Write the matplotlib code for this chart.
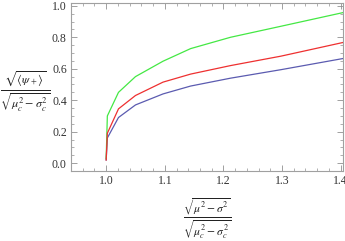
import numpy as np
import matplotlib
matplotlib.use("Agg")
from matplotlib import pyplot as plt
from matplotlib.ticker import MultipleLocator

# values
x = [1.0, 1.002, 1.021, 1.05, 1.097, 1.144, 1.212, 1.298, 1.404]
green = [0.03, 0.30, 0.45, 0.55, 0.648, 0.728, 0.80, 0.87, 0.957]
red = [0.02, 0.19, 0.345, 0.43, 0.515, 0.566, 0.62, 0.68, 0.767]
blue = [0.02, 0.16, 0.29, 0.37, 0.44, 0.49, 0.54, 0.594, 0.665]

plt.rcParams['font.family'] = ['Liberation Serif', 'DejaVu Serif']
plt.rcParams['mathtext.fontset'] = 'stix'

fig = plt.figure(figsize=(3.45, 2.41), dpi=100)
ax = fig.add_axes([71 / 345, 1 - 171 / 241, 272 / 345, 168 / 241])

ax.plot(x, blue, color="#5b5bb0", lw=0.9)
ax.plot(x, green, color="#44e844", lw=0.9)
ax.plot(x, red, color="#ee3030", lw=0.9)

ax.set_xlim(0.94, 1.404)
ax.set_ylim(-0.05, 1.018)

ax.xaxis.set_major_locator(MultipleLocator(0.1))
ax.xaxis.set_minor_locator(MultipleLocator(0.02))
ax.yaxis.set_major_locator(MultipleLocator(0.2))
ax.yaxis.set_minor_locator(MultipleLocator(0.05))
ax.xaxis.set_major_formatter(plt.FuncFormatter(lambda v, p: f"{v:.1f}"))
ax.yaxis.set_major_formatter(plt.FuncFormatter(lambda v, p: f"{v:.1f}"))

for s in ax.spines.values():
    s.set_color("#a0a0a0")
    s.set_linewidth(0.8)
ax.tick_params(which='both', direction='in', top=True, right=True,
               color="#909090", labelsize=8.5, labelcolor="#333333", pad=3)
ax.tick_params(which='major', length=4, width=0.6)
ax.tick_params(which='minor', length=2, width=0.5)

ax.set_ylabel(r'$\frac{\sqrt{\langle\psi_+\rangle}}{\sqrt{\mu_c^2-\sigma_c^2}}$',
              rotation=0, fontsize=12.5, color="#222222")
ax.yaxis.set_label_coords(-0.17, 0.47)
ax.yaxis.label.set_va('center')
ax.yaxis.label.set_ha('center')
ax.set_xlabel(r'$\frac{\sqrt{\mu^2-\sigma^2}}{\sqrt{\mu_c^2-\sigma_c^2}}$',
              fontsize=12, color="#222222")
ax.xaxis.set_label_coords(0.5, -0.285)
ax.xaxis.label.set_va('center')

fig.savefig("out.png", dpi=100)
